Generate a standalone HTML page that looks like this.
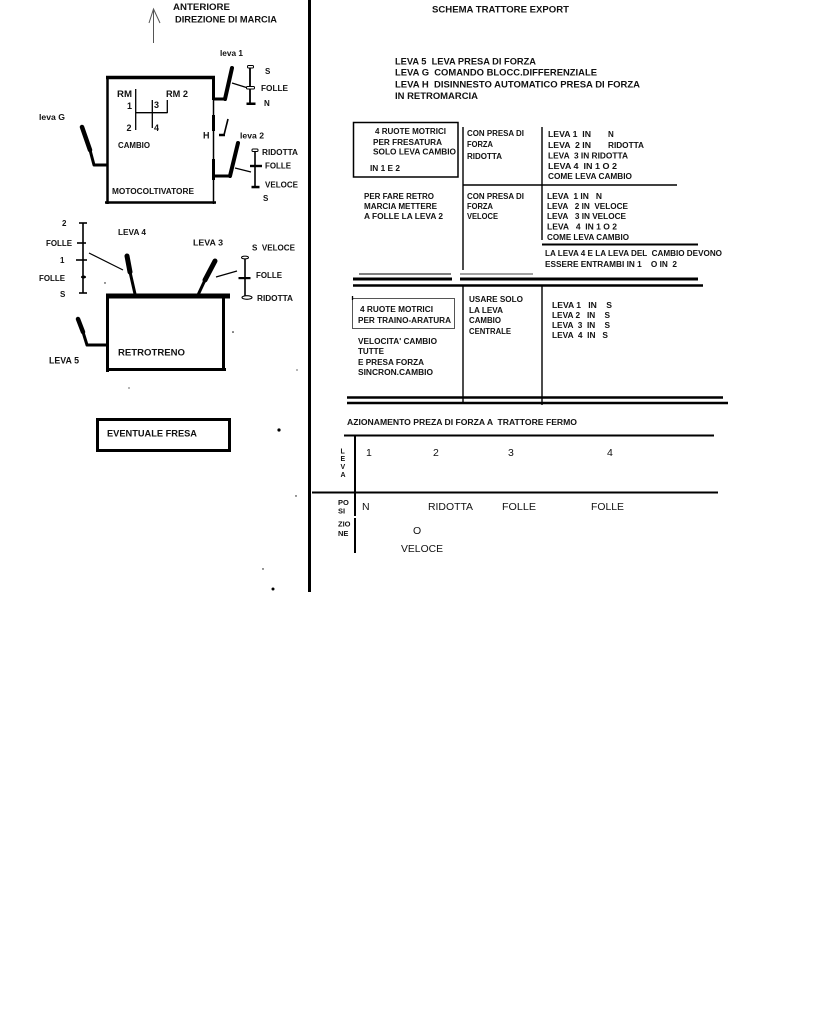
<!DOCTYPE html>
<html><head><meta charset="utf-8">
<style>
html,body{margin:0;padding:0;background:#fff;}
svg{display:block;}
text{font-family:"Liberation Sans",Arial,sans-serif;font-weight:bold;fill:#111;white-space:pre;}
text.n{font-weight:normal;}
</style></head>
<body>
<svg width="823" height="1024" viewBox="0 0 823 1024" font-size="8" xmlns="http://www.w3.org/2000/svg">
<rect width="823" height="1024" fill="#fff"/>

<!-- arrow -->
<g stroke="#555" stroke-width="1" fill="none">
<line x1="153.5" y1="9" x2="153.5" y2="43"/>
<polyline points="149,23 153.5,9 160,23"/>
</g>
<text x="173" y="10" font-size="9.5" textLength="57" lengthAdjust="spacingAndGlyphs">ANTERIORE</text>
<text x="175" y="22.5" font-size="9.5" textLength="102" lengthAdjust="spacingAndGlyphs">DIREZIONE DI MARCIA</text>

<!-- main vertical divider -->
<line x1="309.5" y1="0" x2="309.5" y2="592" stroke="#000" stroke-width="3"/>

<!-- MOTOCOLTIVATORE box -->
<g stroke="#000" fill="none">
<line x1="106" y1="77.5" x2="215" y2="77.5" stroke-width="3.5"/>
<line x1="107.5" y1="76" x2="107.5" y2="204" stroke-width="2.5"/>
<line x1="105" y1="202.5" x2="216" y2="202.5" stroke-width="2.5"/>
<line x1="213.5" y1="76" x2="213.5" y2="204" stroke-width="1.5"/>
<line x1="213.5" y1="77" x2="213.5" y2="100" stroke-width="3"/>
<line x1="213.5" y1="115" x2="213.5" y2="131" stroke-width="3"/>
<line x1="213.5" y1="159" x2="213.5" y2="180" stroke-width="3"/>
</g>
<!-- gear pattern -->
<g stroke="#000" stroke-width="1.3">
<line x1="135.7" y1="89" x2="135.7" y2="130"/>
<line x1="135.7" y1="112.7" x2="167.5" y2="112.7"/>
<line x1="152.3" y1="100" x2="152.3" y2="128"/>
<line x1="167.3" y1="100" x2="167.3" y2="113"/>
</g>
<text x="117" y="97" font-size="9.5" textLength="15" lengthAdjust="spacingAndGlyphs">RM</text>
<text x="166" y="97" font-size="9.5" textLength="22" lengthAdjust="spacingAndGlyphs">RM 2</text>
<text x="127" y="109" font-size="9">1</text>
<text x="154" y="108" font-size="9">3</text>
<text x="126.5" y="131" font-size="9">2</text>
<text x="154" y="131" font-size="9">4</text>
<text x="118" y="148" textLength="32" lengthAdjust="spacingAndGlyphs">CAMBIO</text>
<text x="112" y="194" textLength="82" lengthAdjust="spacingAndGlyphs">MOTOCOLTIVATORE</text>

<!-- leva G -->
<text x="39" y="120" font-size="8.3" textLength="26" lengthAdjust="spacingAndGlyphs">leva G</text>
<g stroke="#000" stroke-linecap="round" fill="none">
<line x1="82" y1="127" x2="90" y2="150" stroke-width="4.5"/>
<line x1="90" y1="150" x2="94" y2="165" stroke-width="3"/>
<line x1="94" y1="165" x2="107" y2="165" stroke-width="3" stroke-linecap="butt"/>
</g>

<!-- leva 1 -->
<text x="220" y="56" font-size="8.3" textLength="23" lengthAdjust="spacingAndGlyphs">leva 1</text>
<g stroke="#000" fill="none">
<line x1="232" y1="68" x2="225" y2="99" stroke-width="4" stroke-linecap="round"/>
<line x1="213" y1="99" x2="226" y2="99" stroke-width="3"/>
<line x1="232" y1="83" x2="248" y2="88" stroke-width="1.2"/>
<line x1="250" y1="67" x2="250" y2="104" stroke-width="1.8"/>
</g>
<rect x="247.5" y="65.5" width="6" height="2.5" rx="1" fill="#fff" stroke="#000" stroke-width="1"/>
<rect x="246.5" y="86.5" width="8" height="2.5" rx="1" fill="#fff" stroke="#000" stroke-width="1"/>
<rect x="246.5" y="102.5" width="9" height="2.5" fill="#000"/>
<text x="265" y="74">S</text>
<text x="261" y="91" textLength="27" lengthAdjust="spacingAndGlyphs">FOLLE</text>
<text x="264" y="106">N</text>

<!-- H -->
<text x="203" y="138.5" font-size="9">H</text>
<g stroke="#000" fill="none">
<line x1="228" y1="119" x2="224" y2="135" stroke-width="1.6"/>
<line x1="219" y1="135" x2="225" y2="135" stroke-width="2.5"/>
</g>

<!-- leva 2 -->
<text x="240" y="138.5" font-size="8.3" textLength="24" lengthAdjust="spacingAndGlyphs">leva 2</text>
<g stroke="#000" fill="none">
<line x1="238" y1="143" x2="230" y2="176" stroke-width="4" stroke-linecap="round"/>
<line x1="213" y1="176" x2="231" y2="176" stroke-width="3"/>
<line x1="235" y1="168" x2="251" y2="172" stroke-width="1.2"/>
<line x1="255" y1="150" x2="255" y2="187" stroke-width="1.6"/>
</g>
<rect x="252" y="149" width="6" height="2.5" rx="1" fill="#fff" stroke="#000" stroke-width="1"/>
<rect x="250" y="164.8" width="12" height="2.4" fill="#000"/>
<rect x="251.5" y="185.8" width="8" height="2.5" fill="#000"/>
<text x="262" y="155" textLength="36" lengthAdjust="spacingAndGlyphs">RIDOTTA</text>
<text x="265" y="168.5" textLength="26" lengthAdjust="spacingAndGlyphs">FOLLE</text>
<text x="265" y="187.5" textLength="33" lengthAdjust="spacingAndGlyphs">VELOCE</text>
<text x="263" y="201">S</text>

<!-- leva 4 scale -->
<g stroke="#000" fill="none" stroke-width="1.6">
<line x1="83" y1="223" x2="83" y2="293"/>
<line x1="79" y1="223" x2="87" y2="223"/>
<line x1="77" y1="243" x2="86" y2="243"/>
<line x1="76" y1="260" x2="87" y2="260"/>
<line x1="79" y1="293" x2="87" y2="293"/>
</g>
<ellipse cx="83.5" cy="277" rx="2.6" ry="1.5" fill="#000"/>
<text x="62" y="226">2</text>
<text x="46" y="246" textLength="26" lengthAdjust="spacingAndGlyphs">FOLLE</text>
<text x="60" y="263">1</text>
<text x="39" y="281" textLength="26" lengthAdjust="spacingAndGlyphs">FOLLE</text>
<text x="60" y="297">S</text>

<text x="118" y="235" textLength="28" lengthAdjust="spacingAndGlyphs">LEVA 4</text>
<line x1="89" y1="253" x2="123" y2="270" stroke="#000" stroke-width="1.2"/>
<g stroke="#000" stroke-linecap="round" fill="none">
<line x1="127" y1="256" x2="130" y2="272" stroke-width="5"/>
<line x1="130" y1="272" x2="135" y2="294" stroke-width="3"/>
</g>

<text x="193" y="245.5" font-size="8.7" textLength="30" lengthAdjust="spacingAndGlyphs">LEVA 3</text>
<g stroke="#000" stroke-linecap="round" fill="none">
<line x1="215" y1="261" x2="205" y2="280" stroke-width="5"/>
<line x1="205" y1="280" x2="198" y2="295" stroke-width="3"/>
</g>
<line x1="216" y1="277" x2="237" y2="271" stroke="#000" stroke-width="1.2"/>
<line x1="245" y1="257" x2="245" y2="297" stroke="#000" stroke-width="1.6"/>
<ellipse cx="245" cy="257.5" rx="3.5" ry="1.4" fill="#fff" stroke="#000" stroke-width="1"/>
<rect x="238.5" y="277" width="12" height="2.2" fill="#000"/>
<ellipse cx="247" cy="297.5" rx="5" ry="1.8" fill="#fff" stroke="#000" stroke-width="1.1"/>
<text x="252" y="250.5" textLength="43" lengthAdjust="spacingAndGlyphs">S  VELOCE</text>
<text x="256" y="278" textLength="26" lengthAdjust="spacingAndGlyphs">FOLLE</text>
<text x="257" y="301" textLength="36" lengthAdjust="spacingAndGlyphs">RIDOTTA</text>

<!-- RETROTRENO box -->
<g stroke="#000" fill="none">
<line x1="106" y1="296" x2="230" y2="296" stroke-width="5"/>
<line x1="107.5" y1="294" x2="107.5" y2="372" stroke-width="3"/>
<line x1="223.5" y1="294" x2="223.5" y2="371" stroke-width="3"/>
<line x1="106" y1="369.5" x2="226" y2="369.5" stroke-width="3"/>
</g>
<text x="118" y="355.5" font-size="9.5" textLength="67" lengthAdjust="spacingAndGlyphs">RETROTRENO</text>
<g stroke="#000" stroke-linecap="round" fill="none">
<line x1="78" y1="319" x2="83" y2="332" stroke-width="4.5"/>
<line x1="83" y1="332" x2="87" y2="345" stroke-width="3"/>
<line x1="87" y1="345" x2="107" y2="345" stroke-width="3" stroke-linecap="butt"/>
</g>
<text x="49" y="363.5" font-size="9" textLength="30" lengthAdjust="spacingAndGlyphs">LEVA 5</text>

<!-- EVENTUALE FRESA -->
<rect x="97.5" y="419.5" width="132" height="31" fill="none" stroke="#000" stroke-width="3"/>
<text x="107" y="436.5" font-size="9.5" textLength="90" lengthAdjust="spacingAndGlyphs">EVENTUALE FRESA</text>

<!-- dots -->
<g fill="#000">
<circle cx="279" cy="430" r="1.6"/>
<circle cx="273" cy="589" r="1.5"/>
<circle cx="296" cy="496" r="0.7"/>
<circle cx="263" cy="569" r="0.7"/>
<circle cx="129" cy="388" r="0.6"/>
<circle cx="105" cy="283" r="0.7"/>
<circle cx="233" cy="332" r="0.8"/>
<circle cx="297" cy="370" r="0.6"/>
</g>

<!-- RIGHT SIDE -->
<text x="432" y="12.4" font-size="9.4" textLength="137" lengthAdjust="spacingAndGlyphs">SCHEMA TRATTORE EXPORT</text>
<text x="395" y="64.3" font-size="9" textLength="141" lengthAdjust="spacingAndGlyphs">LEVA 5  LEVA PRESA DI FORZA</text>
<text x="395" y="75.6" font-size="9" textLength="202" lengthAdjust="spacingAndGlyphs">LEVA G  COMANDO BLOCC.DIFFERENZIALE</text>
<text x="395" y="87.3" font-size="9" textLength="245" lengthAdjust="spacingAndGlyphs">LEVA H  DISINNESTO AUTOMATICO PRESA DI FORZA</text>
<text x="395" y="99" font-size="9" textLength="83" lengthAdjust="spacingAndGlyphs">IN RETROMARCIA</text>

<!-- table 1 -->
<rect x="353.5" y="122.5" width="104.5" height="54.5" fill="none" stroke="#000" stroke-width="1.5"/>
<g stroke="#000" fill="none">
<line x1="463" y1="127" x2="463" y2="270" stroke-width="1.4"/>
<line x1="542" y1="127" x2="542" y2="240" stroke-width="1.4"/>
<line x1="463" y1="185" x2="677" y2="185" stroke-width="1.4"/>
<line x1="542" y1="244.5" x2="698" y2="244.5" stroke-width="2"/>
</g>
<text x="375" y="134" textLength="71" lengthAdjust="spacingAndGlyphs">4 RUOTE MOTRICI</text>
<text x="373" y="145" textLength="69" lengthAdjust="spacingAndGlyphs">PER FRESATURA</text>
<text x="373" y="154.5" textLength="83" lengthAdjust="spacingAndGlyphs">SOLO LEVA CAMBIO</text>
<text x="370" y="171" textLength="30" lengthAdjust="spacingAndGlyphs">IN 1 E 2</text>
<text x="467" y="136" textLength="57" lengthAdjust="spacingAndGlyphs">CON PRESA DI</text>
<text x="467" y="147" textLength="26" lengthAdjust="spacingAndGlyphs">FORZA</text>
<text x="467" y="159" textLength="35" lengthAdjust="spacingAndGlyphs">RIDOTTA</text>
<text x="548" y="137" textLength="43" lengthAdjust="spacingAndGlyphs">LEVA 1  IN</text>
<text x="608" y="137">N</text>
<text x="548" y="148" textLength="43" lengthAdjust="spacingAndGlyphs">LEVA  2 IN</text>
<text x="608" y="148" textLength="36" lengthAdjust="spacingAndGlyphs">RIDOTTA</text>
<text x="548" y="158.5" textLength="80" lengthAdjust="spacingAndGlyphs">LEVA  3 IN RIDOTTA</text>
<text x="548" y="169" textLength="69" lengthAdjust="spacingAndGlyphs">LEVA 4  IN 1 O 2</text>
<text x="548" y="179" textLength="84" lengthAdjust="spacingAndGlyphs">COME LEVA CAMBIO</text>

<text x="364" y="199" textLength="70" lengthAdjust="spacingAndGlyphs">PER FARE RETRO</text>
<text x="364" y="209" textLength="73" lengthAdjust="spacingAndGlyphs">MARCIA METTERE</text>
<text x="364" y="219" textLength="79" lengthAdjust="spacingAndGlyphs">A FOLLE LA LEVA 2</text>
<text x="467" y="199" textLength="57" lengthAdjust="spacingAndGlyphs">CON PRESA DI</text>
<text x="467" y="209" textLength="26" lengthAdjust="spacingAndGlyphs">FORZA</text>
<text x="467" y="219" textLength="31" lengthAdjust="spacingAndGlyphs">VELOCE</text>
<text x="547" y="199" textLength="55" lengthAdjust="spacingAndGlyphs">LEVA  1 IN   N</text>
<text x="547" y="209" textLength="81" lengthAdjust="spacingAndGlyphs">LEVA   2 IN  VELOCE</text>
<text x="547" y="219" textLength="79" lengthAdjust="spacingAndGlyphs">LEVA   3 IN VELOCE</text>
<text x="547" y="229.5" textLength="70" lengthAdjust="spacingAndGlyphs">LEVA   4  IN 1 O 2</text>
<text x="547" y="240" textLength="82" lengthAdjust="spacingAndGlyphs">COME LEVA CAMBIO</text>
<text x="545" y="256" textLength="177" lengthAdjust="spacingAndGlyphs">LA LEVA 4 E LA LEVA DEL  CAMBIO DEVONO</text>
<text x="545" y="267" textLength="132" lengthAdjust="spacingAndGlyphs">ESSERE ENTRAMBI IN 1    O IN  2</text>

<!-- double separator lines -->
<g stroke="#000" fill="none">
<line x1="359" y1="274" x2="451" y2="274" stroke-width="1"/>
<line x1="460" y1="274" x2="533" y2="274" stroke-width="1" stroke="#444"/>
<line x1="353" y1="279" x2="452" y2="279" stroke-width="3"/>
<line x1="460" y1="279" x2="698" y2="279" stroke-width="3"/>
<line x1="353" y1="285.5" x2="703" y2="285.5" stroke-width="2.5"/>
</g>

<!-- section 2 -->
<g stroke="#000" fill="none">
<line x1="463" y1="285" x2="463" y2="403" stroke-width="1.4"/>
<line x1="542" y1="285" x2="542" y2="405" stroke-width="1.4"/>
</g>
<rect x="352.5" y="298.5" width="102" height="30" fill="none" stroke="#555" stroke-width="1"/>
<line x1="352.5" y1="296" x2="352.5" y2="300" stroke="#000" stroke-width="1.3"/>
<text x="360" y="312" textLength="73" lengthAdjust="spacingAndGlyphs">4 RUOTE MOTRICI</text>
<text x="358" y="323" textLength="93" lengthAdjust="spacingAndGlyphs">PER TRAINO-ARATURA</text>
<text x="358" y="344" textLength="79" lengthAdjust="spacingAndGlyphs">VELOCITA' CAMBIO</text>
<text x="358" y="354" textLength="26" lengthAdjust="spacingAndGlyphs">TUTTE</text>
<text x="358" y="365" textLength="66" lengthAdjust="spacingAndGlyphs">E PRESA FORZA</text>
<text x="358" y="375" textLength="75" lengthAdjust="spacingAndGlyphs">SINCRON.CAMBIO</text>
<text x="469" y="302" textLength="54" lengthAdjust="spacingAndGlyphs">USARE SOLO</text>
<text x="469" y="313" textLength="34" lengthAdjust="spacingAndGlyphs">LA LEVA</text>
<text x="469" y="323" textLength="32" lengthAdjust="spacingAndGlyphs">CAMBIO</text>
<text x="469" y="334" textLength="42" lengthAdjust="spacingAndGlyphs">CENTRALE</text>
<text x="552" y="308" textLength="60" lengthAdjust="spacingAndGlyphs">LEVA 1   IN    S</text>
<text x="552" y="318" textLength="58" lengthAdjust="spacingAndGlyphs">LEVA 2   IN    S</text>
<text x="552" y="328" textLength="58" lengthAdjust="spacingAndGlyphs">LEVA  3  IN    S</text>
<text x="552" y="338" textLength="56" lengthAdjust="spacingAndGlyphs">LEVA  4  IN   S</text>

<g stroke="#000" fill="none">
<line x1="347" y1="397.5" x2="723" y2="397.5" stroke-width="2.5"/>
<line x1="347" y1="403" x2="728" y2="403" stroke-width="2.5"/>
</g>

<text x="347" y="425" textLength="230" lengthAdjust="spacingAndGlyphs">AZIONAMENTO PREZA DI FORZA A  TRATTORE FERMO</text>

<!-- table 3 -->
<g stroke="#000" fill="none">
<line x1="344" y1="435.5" x2="714" y2="435.5" stroke-width="2"/>
<line x1="355" y1="435" x2="355" y2="516" stroke-width="2"/>
<line x1="355" y1="518" x2="355" y2="553" stroke-width="2"/>
<line x1="312" y1="492.5" x2="718" y2="492.5" stroke-width="2"/>
</g>
<text x="340.5" y="453.5" font-size="7">L</text>
<text x="340.5" y="461" font-size="7">E</text>
<text x="340.5" y="469" font-size="7">V</text>
<text x="340.5" y="477" font-size="7">A</text>
<text x="338" y="505" font-size="7.5">PO</text>
<text x="338" y="513.5" font-size="7.5">SI</text>
<text x="338" y="526.5" font-size="7.5">ZIO</text>
<text x="338" y="536" font-size="7.5">NE</text>

<text class="n" x="366" y="456" font-size="10.5">1</text>
<text class="n" x="433" y="456" font-size="10.5">2</text>
<text class="n" x="508" y="456" font-size="10.5">3</text>
<text class="n" x="607" y="456" font-size="10.5">4</text>
<text class="n" x="362" y="510" font-size="10.5">N</text>
<text class="n" x="428" y="510" font-size="10.5" textLength="45" lengthAdjust="spacingAndGlyphs">RIDOTTA</text>
<text class="n" x="502" y="510" font-size="10.5" textLength="34" lengthAdjust="spacingAndGlyphs">FOLLE</text>
<text class="n" x="591" y="510" font-size="10.5" textLength="33" lengthAdjust="spacingAndGlyphs">FOLLE</text>
<text class="n" x="413" y="534" font-size="10.5">O</text>
<text class="n" x="401" y="552" font-size="10.5" textLength="42" lengthAdjust="spacingAndGlyphs">VELOCE</text>
</svg>
</body></html>
